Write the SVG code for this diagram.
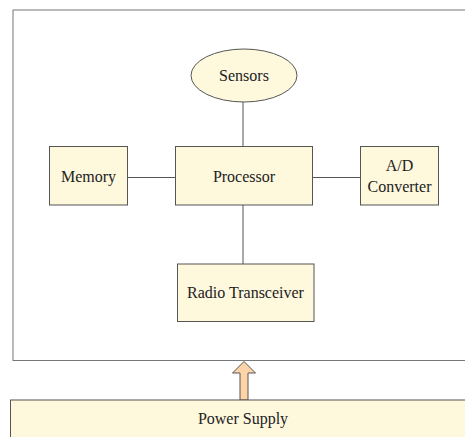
<svg xmlns="http://www.w3.org/2000/svg" width="465" height="437" viewBox="0 0 465 437">
<style>
.box{fill:#fef8dd;stroke:#555;stroke-width:1}
.lbl{font-family:'Liberation Serif','Times New Roman',serif;font-size:16px;fill:#222;text-anchor:middle}
.conn line{stroke:#555;stroke-width:1}
</style>
<rect width="465" height="437" fill="#fff"/>
<g id="frame"><rect x="13" y="10" width="470" height="350.5" fill="none" stroke="#777" stroke-width="1"/></g>
<g class="conn" id="connectors">
<line x1="243" y1="102" x2="243" y2="146"/>
<line x1="127.5" y1="177.5" x2="175.5" y2="177.5"/>
<line x1="312.5" y1="177.5" x2="360.5" y2="177.5"/>
<line x1="243" y1="205" x2="243" y2="264"/>
<polygon points="240,400 240,373 232.5,373 244,361.5 255.5,373 248,373 248,400" fill="#fdd3a8" stroke="#555" stroke-width="1"/>
</g>
<g id="sensors"><ellipse class="box" cx="244" cy="75.5" rx="53" ry="26.5"/><text class="lbl" x="244" y="81" font-family="Liberation Serif, serif">Sensors</text></g>
<g id="memory"><rect class="box" x="49.5" y="146.5" width="78" height="58.5"/><text class="lbl" x="88.5" y="182" font-family="Liberation Serif, serif">Memory</text></g>
<g id="processor"><rect class="box" x="175.5" y="146.5" width="137" height="58.5"/><text class="lbl" x="244" y="182" font-family="Liberation Serif, serif">Processor</text></g>
<g id="ad"><rect class="box" x="360.5" y="146.5" width="78" height="58.5"/><text class="lbl" x="399.5" y="171" font-family="Liberation Serif, serif">A/D</text><text class="lbl" x="399.5" y="191.5" font-family="Liberation Serif, serif">Converter</text></g>
<g id="radio"><rect class="box" x="177.5" y="264" width="136.5" height="57.5"/><text class="lbl" x="245.5" y="297.5" font-family="Liberation Serif, serif">Radio Transceiver</text></g>
<g id="power"><rect class="box" x="10.5" y="400" width="470" height="50"/><text class="lbl" x="243" y="424" font-family="Liberation Serif, serif">Power Supply</text></g>
</svg>
